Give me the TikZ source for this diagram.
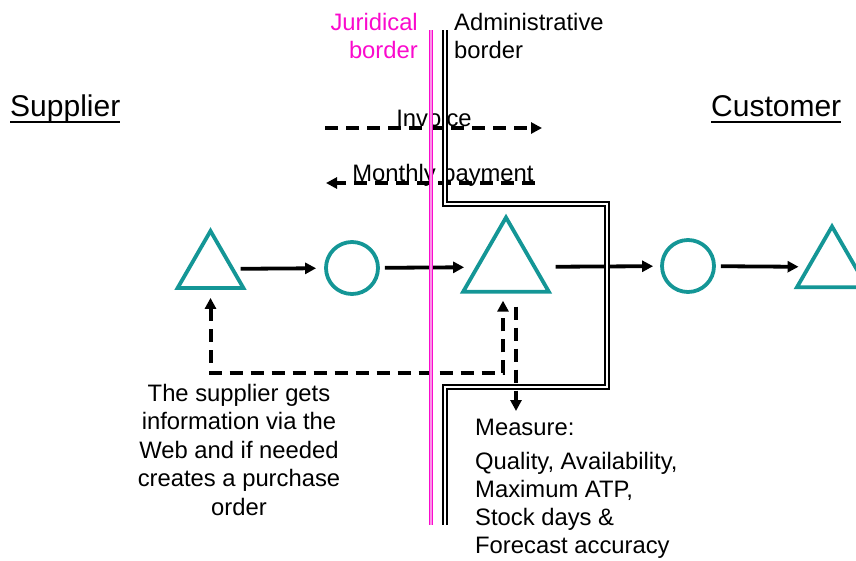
\documentclass[tikz,border=0pt]{standalone}
\usepackage{fontspec}
\setmainfont{Liberation Sans}
\usetikzlibrary{shapes.geometric,arrows.meta,positioning}
\definecolor{stockteal}{RGB}{20,150,150}
\definecolor{jurpink}{RGB}{250,10,205}

\begin{document}
\begin{tikzpicture}[
    x=1pt, y=-1pt,
    >={Triangle[length=11pt,width=11pt]},
    every node/.style={inner sep=0pt, font=\fontsize{23.8}{28}\selectfont},
    stock/.style={draw=stockteal, line width=3.8pt, regular polygon, regular polygon sides=3, minimum size=#1},
    proc/.style={draw=stockteal, line width=3.8pt, circle, minimum size=52pt},
    flow/.style={->, line width=3.8pt, shorten >=8pt, shorten <=6pt},
    dline/.style={line width=4pt, dash pattern=on 13pt off 8pt},
    title/.style={font=\fontsize{30}{36}\selectfont},
    jurline/.style={draw=jurpink, line width=1.6pt, double=jurpink!45, double distance=1.6pt},
    admline/.style={draw=black, line width=1.9pt, double=white, double distance=1.6pt}
]
    \useasboundingbox (0,0) rectangle (856,560);

    % Parties
    \node[title, anchor=base west] (supp) at (10,116) {Supplier};
    \node[title, anchor=base west] (cust) at (711,116) {Customer};
    \draw[line width=1.5pt] ([yshift=-6pt]supp.base west) -- ([yshift=-6pt]supp.base east);
    \draw[line width=1.5pt] ([yshift=-6pt]cust.base west) -- ([yshift=-6pt]cust.base east);

    % Borders
    \node[anchor=north east, align=right, text=jurpink] (jur) at (418,13) {Juridical\\border};
    \node[anchor=north west, align=left] (adm) at (454,13) {Administrative\\border};

    % Money and invoices
    \node[anchor=base] (inv) at (434,126) {Invoice};
    \node[anchor=base] (pay) at (443,181) {Monthly payment};
    \coordinate (inv-l) at (325,128);
    \coordinate (inv-r) at (542,128);
    \coordinate (pay-r) at (535,183);
    \coordinate (pay-l) at (326,183);
    \draw[dline, ->] (inv-l) -- (inv-r);
    \draw[dline, ->] (pay-r) -- (pay-l);

    % Supply chain
    \node[stock=76pt] (tri1) at (210.5,269) {};
    \node[proc] (c1) at (352,268) {};
    \node[stock=99pt] (tri2) at (506,267) {};
    \node[proc] (c2) at (688,266) {};
    \node[stock=81pt] (tri3) at (832,267) {};

    \draw[flow] (tri1) -- (c1);
    \draw[flow, shorten >=11pt, shorten <=5pt] (c1) -- (tri2);
    \draw[flow, shorten <=19pt, shorten >=7pt] (tri2) -- (c2);
    \draw[flow, shorten <=5pt] (c2) -- (tri3);

    % Information via the Web
    \coordinate (fb-mid) at (360,373);
    \draw[dline, <->] ([yshift=-8pt]tri1.south) |- (fb-mid) -| ([xshift=-3pt,yshift=-7pt]tri2.south);

    \node[anchor=north, align=center, font=\fontsize{23.8}{28.5}\selectfont] (note) at (239,384)
        {The supplier gets\\information via the\\Web and if needed\\creates a purchase\\order};

    % Measurement
    \node[anchor=north west, align=left] (meas) at (475,419)
        {Measure:\\[6pt]Quality, Availability,\\Maximum ATP,\\Stock days \&\\Forecast accuracy};
    \coordinate (meas-top) at ([xshift=10pt,yshift=-13pt]tri2.south);
    \draw[dline, ->, shorten >=8pt] (meas-top) -- (meas-top |- meas.north);

    % Border lines
    \coordinate (jur-top) at (431,30);
    \coordinate (jur-bot) at (431,525);
    \draw[jurline] (jur-top) -- (jur-bot);
    \draw[admline] (445,30) -- (445,204) -- (607,204) -- (607,387) -- (445,387) -- (445,525);
\end{tikzpicture}
\end{document}
